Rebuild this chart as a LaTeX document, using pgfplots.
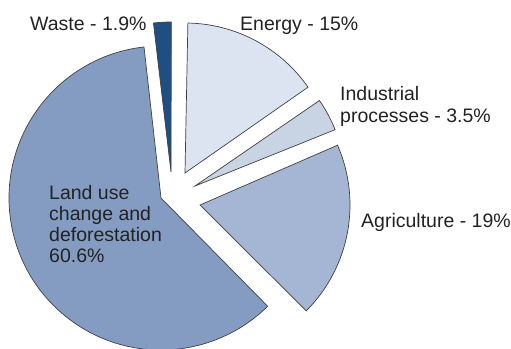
\documentclass[border=0pt]{standalone}
\usepackage{pgfplots}
\usepackage{pgfplotstable}
\pgfplotsset{compat=1.18}
\usepackage{fontspec}
\setmainfont{Liberation Sans}
\definecolor{cWaste}{HTML}{1F4F80}
\definecolor{cEnergy}{HTML}{DDE4F1}
\definecolor{cIndustrial}{HTML}{C8D3E4}
\definecolor{cAgriculture}{HTML}{A5B6D4}
\definecolor{cLanduse}{HTML}{859CC2}
\definecolor{txt}{HTML}{222222}
% pct = share in %, mid = direction of the slice, (ax,ay) = apex of the exploded slice
\pgfplotstableread{
name pct mid ax ay r
Waste 1.9 93.3 171 172 150
Energy 15 61.9 185 173 150
Industrial 3.5 28.2 195 186 151
Agriculture 19 -10.7 200 205 150
Landuse 60.6 205.5 161 198 152
}\slices
\begin{document}
\begin{tikzpicture}
\path[use as bounding box] (0,0) rectangle (511pt,348pt);
\begin{axis}[width=511pt,height=348pt,scale only axis,hide axis,
  xmin=0,xmax=511,ymin=0,ymax=348,y dir=reverse,enlargelimits=false,
  anchor=south west, at={(0,0)}, clip=false]
\pgfplotsforeachungrouped \i in {0,...,4}{
  \pgfplotstablegetelem{\i}{name}\of\slices \edef\nm{\pgfplotsretval}
  \pgfplotstablegetelem{\i}{pct}\of\slices \edef\pc{\pgfplotsretval}
  \pgfplotstablegetelem{\i}{mid}\of\slices \edef\md{\pgfplotsretval}
  \pgfplotstablegetelem{\i}{ax}\of\slices \edef\axx{\pgfplotsretval}
  \pgfplotstablegetelem{\i}{ay}\of\slices \edef\ayy{\pgfplotsretval}
  \pgfplotstablegetelem{\i}{r}\of\slices \edef\rr{\pgfplotsretval}
  \pgfmathsetmacro\sa{\md+\pc*1.8}
  \pgfmathsetmacro\ea{\md-\pc*1.8}
  \edef\tmp{\noexpand\filldraw[fill=c\nm, draw=black!75, line width=0.7pt, line join=miter]
    (axis cs:\axx,\ayy) -- ++(\ea:\rr pt) arc[start angle=\ea, end angle=\sa, radius=\rr pt] -- cycle;}
  \tmp
}
\begin{scope}[every node/.style={text=txt, font=\fontsize{19.5}{21}\selectfont, inner sep=0pt}]
\node[anchor=base west] at (axis cs:30,30.5) {Waste - 1.9\%};
\node[anchor=base west] at (axis cs:240,30.5) {Energy - 15\%};
\node[anchor=base west] at (axis cs:340,100) {Industrial};
\node[anchor=base west] at (axis cs:340,122) {processes - 3.5\%};
\node[anchor=base west] at (axis cs:361,227) {Agriculture - 19\%};
\node[anchor=base west] at (axis cs:49,199) {Land use};
\node[anchor=base west] at (axis cs:49,220) {change and};
\node[anchor=base west] at (axis cs:49,241) {deforestation};
\node[anchor=base west] at (axis cs:49,262.5) {60.6\%};
\end{scope}
\end{axis}
\end{tikzpicture}
\end{document}
